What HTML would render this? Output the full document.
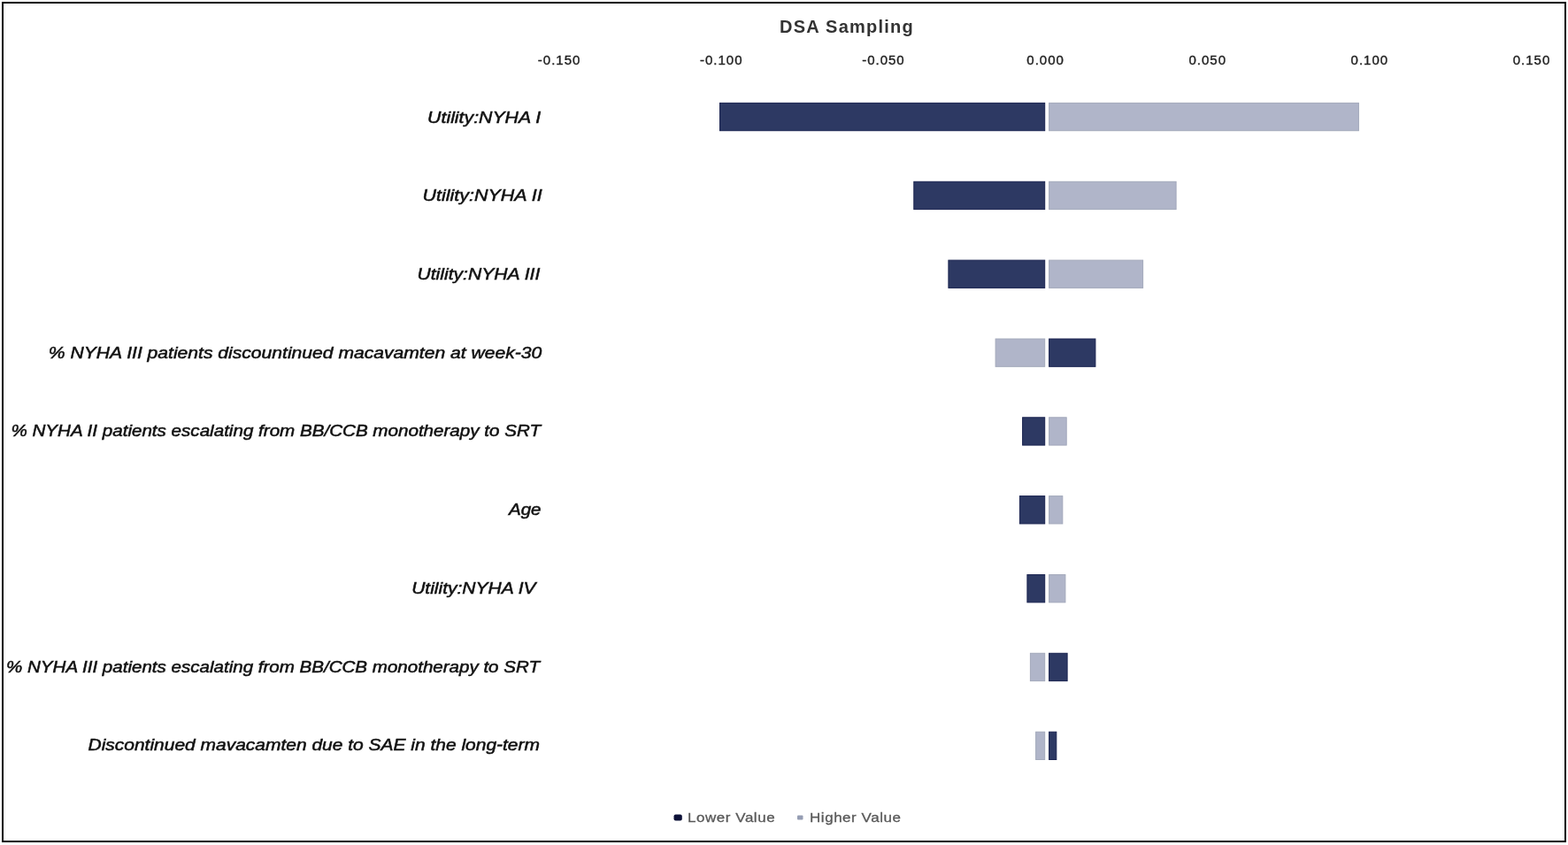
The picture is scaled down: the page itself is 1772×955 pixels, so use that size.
<!DOCTYPE html>
<html>
<head>
<meta charset="utf-8">
<style>
html,body{margin:0;padding:0;background:#fff;}
body{width:1772px;height:955px;position:relative;overflow:hidden;font-family:"Liberation Sans",Arial,sans-serif;}
#wrap{position:absolute;left:0;top:0;width:1772px;height:955px;filter:blur(0.4px);}
svg{position:absolute;left:0;top:0;}
.d{fill:#2d3963;stroke:#1a2350;stroke-width:1;}
.l{fill:#b0b5c9;stroke:#a3a9bb;stroke-width:1;}
.t{position:absolute;white-space:nowrap;line-height:1;}
.title{font-size:20px;font-weight:bold;color:#333;letter-spacing:1.25px;left:881px;top:20px;}
.ax{font-size:15px;color:#222;-webkit-text-stroke:0.4px #222;width:80px;text-align:center;letter-spacing:1.0px;top:60px;}
.lab{font-size:17.5px;font-style:italic;font-weight:normal;color:#111;-webkit-text-stroke:0.5px #111;right:1160px;text-align:right;transform-origin:100% 50%;}
.leg{font-size:15px;color:#585858;-webkit-text-stroke:0.3px #585858;letter-spacing:0.5px;top:916px;transform:scaleX(1.13);transform-origin:0 50%;}
</style>
</head>
<body>
<div id="wrap">
<svg width="1772" height="955" viewBox="0 0 1772 955">
<rect x="3" y="3" width="1766" height="948" fill="none" stroke="#000" stroke-width="2"/>
<rect class="d" x="813.5" y="116.4" width="367.2" height="31.3"/>
<rect class="l" x="1185.6" y="116.4" width="349.8" height="31.3"/>
<rect class="d" x="1032.8" y="205.3" width="147.9" height="31.3"/>
<rect class="l" x="1185.6" y="205.3" width="143.5" height="31.3"/>
<rect class="d" x="1071.9" y="294.1" width="108.8" height="31.3"/>
<rect class="l" x="1185.6" y="294.1" width="106.0" height="31.3"/>
<rect class="l" x="1125.1" y="383.0" width="55.6" height="31.3"/>
<rect class="d" x="1185.6" y="383.0" width="52.3" height="31.3"/>
<rect class="d" x="1155.6" y="471.8" width="25.1" height="31.3"/>
<rect class="l" x="1185.6" y="471.8" width="19.6" height="31.3"/>
<rect class="d" x="1152.4" y="560.6" width="28.3" height="31.3"/>
<rect class="l" x="1185.6" y="560.6" width="15.2" height="31.3"/>
<rect class="d" x="1160.9" y="649.5" width="19.8" height="31.3"/>
<rect class="l" x="1185.6" y="649.5" width="18.3" height="31.3"/>
<rect class="l" x="1164.4" y="738.3" width="16.3" height="31.3"/>
<rect class="d" x="1185.6" y="738.3" width="20.5" height="31.3"/>
<rect class="l" x="1170.6" y="827.2" width="10.1" height="31.3"/>
<rect class="d" x="1185.6" y="827.2" width="8.2" height="31.3"/>
<rect x="761.5" y="920.4" width="9.3" height="7" rx="2" fill="#0d1238"/>
<rect x="901" y="921.5" width="6.5" height="5" rx="1" fill="#959db3"/>
</svg>
<div class="t title">DSA Sampling</div>
<div class="t ax" style="left:592.15px;">-0.150</div>
<div class="t ax" style="left:775.30px;">-0.100</div>
<div class="t ax" style="left:958.45px;">-0.050</div>
<div class="t ax" style="left:1141.60px;">0.000</div>
<div class="t ax" style="left:1324.75px;">0.050</div>
<div class="t ax" style="left:1507.90px;">0.100</div>
<div class="t ax" style="left:1691.05px;">0.150</div>
<div class="t lab" style="top:124.6px;transform:translateX(-1.10px) scaleX(1.2163);">Utility:NYHA I</div>
<div class="t lab" style="top:213.3px;transform:translateX(0.40px) scaleX(1.2257);">Utility:NYHA II</div>
<div class="t lab" style="top:302.0px;transform:translateX(-1.70px) scaleX(1.2070);">Utility:NYHA III</div>
<div class="t lab" style="top:390.7px;transform:translateX(-0.10px) scaleX(1.2056);">% NYHA III patients discountinued macavamten at week-30</div>
<div class="t lab" style="top:479.4px;transform:translateX(-0.68px) scaleX(1.1768);">% NYHA II patients escalating from BB/CCB monotherapy to SRT</div>
<div class="t lab" style="top:568.1px;transform:translateX(-0.60px) scaleX(1.1750);">Age</div>
<div class="t lab" style="top:656.8px;transform:translateX(-0.40px) scaleX(1.2008);">Utility:NYHA IV&nbsp;</div>
<div class="t lab" style="top:745.5px;transform:translateX(-1.57px) scaleX(1.1741);">% NYHA III patients escalating from BB/CCB monotherapy to SRT</div>
<div class="t lab" style="top:834.1px;transform:translateX(-2.10px) scaleX(1.1981);">Discontinued mavacamten due to SAE in the long-term</div>
<div class="t leg" style="left:777px;">Lower Value</div>
<div class="t leg" style="left:915px;">Higher Value</div>
</div>
</body>
</html>
